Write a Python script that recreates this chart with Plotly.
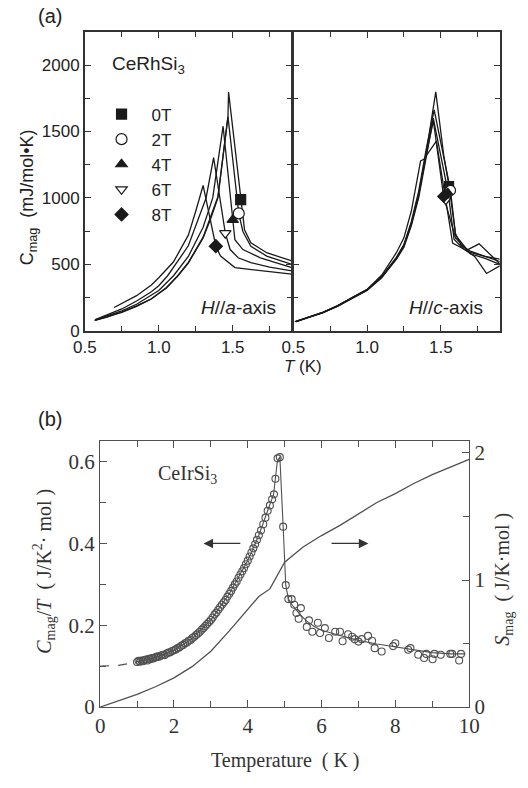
import plotly.graph_objects as go

W, H = 528, 788
def PX(x): return x / W
def PY(y): return 1 - y / H

# ---------------- Panel (a) data: CeRhSi3, H // a-axis ----------------
a_fields = ["0T", "2T", "4T", "6T", "8T"]
a0_T = [0.565, 0.65, 0.75, 0.85, 0.95, 1.0, 1.05, 1.13, 1.2, 1.3, 1.35, 1.4, 1.468, 1.472, 1.554, 1.58, 1.623, 1.73, 1.9]
a0_C = [79, 105, 140, 185, 240, 281, 320, 415, 510, 700, 840, 1000, 1612, 1798, 988, 760, 662, 588, 526]
a2_T = [0.57, 0.65, 0.75, 0.85, 0.95, 1.0, 1.05, 1.13, 1.2, 1.3, 1.35, 1.4, 1.468, 1.541, 1.569, 1.623, 1.73, 1.9]
a2_C = [80, 104, 142, 188, 242, 284, 325, 418, 515, 705, 850, 1010, 1612, 884, 748, 637, 563, 501]
a4_T = [0.57, 0.65, 0.75, 0.85, 0.95, 1.0, 1.1, 1.2, 1.3, 1.365, 1.435, 1.5, 1.515, 1.569, 1.687, 1.9]
a4_C = [82, 110, 150, 200, 265, 304, 415, 560, 780, 1000, 1540, 835, 686, 612, 550, 476]
a6_T = [0.57, 0.65, 0.75, 0.85, 0.95, 1.0, 1.06, 1.2, 1.32, 1.371, 1.45, 1.483, 1.537, 1.623, 1.75, 1.9]
a6_C = [85, 118, 165, 225, 295, 340, 415, 640, 1000, 1304, 735, 612, 550, 514, 480, 452]
a8_T = [0.698, 0.75, 0.85, 0.95, 1.0, 1.1, 1.2, 1.25, 1.3, 1.386, 1.418, 1.515, 1.6, 1.75, 1.9]
a8_C = [176, 205, 265, 345, 400, 520, 720, 900, 1094, 637, 563, 476, 465, 445, 427]
# marker points on each curve (H // a)
am_T = [1.554, 1.541, 1.50, 1.45, 1.386]
am_C = [988, 884, 835, 735, 637]

# ---------------- Panel (a) data: H // c-axis ----------------
c1_T = [0.51, 0.6, 0.7, 0.8, 0.9, 1.0, 1.1, 1.2, 1.25, 1.3, 1.35, 1.4, 1.466, 1.52, 1.556, 1.6, 1.64, 1.7, 1.8, 1.9]
c1_C = [69, 100, 138, 185, 245, 304, 400, 545, 640, 800, 1020, 1330, 1798, 1320, 1089, 730, 640, 600, 560, 522]
c2_T = [0.52, 0.6, 0.7, 0.8, 0.9, 1.0, 1.1, 1.2, 1.25, 1.3, 1.35, 1.4, 1.455, 1.566, 1.6, 1.68, 1.76, 1.9]
c2_C = [72, 98, 136, 188, 248, 310, 410, 555, 650, 820, 1050, 1360, 1662, 1057, 720, 610, 655, 505]
c3_T = [0.52, 0.6, 0.7, 0.8, 0.9, 1.0, 1.1, 1.2, 1.25, 1.3, 1.35, 1.4, 1.449, 1.55, 1.59, 1.65, 1.73, 1.81, 1.9]
c3_C = [70, 102, 140, 186, 250, 306, 405, 540, 630, 790, 1000, 1300, 1600, 1040, 690, 620, 560, 432, 490]
c4_T = [0.52, 0.6, 0.7, 0.8, 0.9, 1.0, 1.1, 1.2, 1.25, 1.3, 1.363, 1.385, 1.47, 1.534, 1.58, 1.7, 1.8, 1.9]
c4_C = [70, 100, 140, 190, 250, 312, 420, 590, 700, 900, 1279, 1291, 1427, 983, 660, 590, 560, 540]
c5_T = [0.52, 0.6, 0.7, 0.8, 0.9, 1.0, 1.1, 1.2, 1.25, 1.3, 1.35, 1.4, 1.45, 1.519, 1.6, 1.7, 1.8, 1.9]
c5_C = [71, 101, 139, 187, 247, 308, 408, 550, 645, 810, 1030, 1320, 1580, 1012, 700, 580, 545, 500]
cm_T = [1.556, 1.566, 1.548, 1.534, 1.519]
cm_C = [1089, 1057, 1040, 983, 1012]

# ---------------- Panel (b) data: CeIrSi3 ----------------
b_low_T = [1.00, 1.04, 1.08, 1.12, 1.16, 1.20, 1.24, 1.28, 1.32, 1.36, 1.40, 1.44, 1.48, 1.52, 1.56, 1.60,
           1.65, 1.70, 1.75, 1.80, 1.85, 1.90, 1.95, 2.00, 2.05, 2.10, 2.15, 2.20, 2.25, 2.30, 2.35, 2.40,
           2.45, 2.50, 2.55, 2.60, 2.65, 2.70, 2.75, 2.80, 2.85, 2.90, 2.95, 3.00, 3.05, 3.10, 3.15, 3.20,
           3.25, 3.30, 3.35, 3.40, 3.45, 3.50, 3.55, 3.60, 3.65, 3.70, 3.75, 3.80, 3.85, 3.90, 3.95, 4.00,
           4.05, 4.10, 4.15, 4.20, 4.25, 4.30, 4.36, 4.42, 4.48, 4.54, 4.60, 4.66, 4.71, 4.75, 4.81, 4.87]
b_low_C = [0.110, 0.113, 0.111, 0.114, 0.112, 0.115, 0.116, 0.114, 0.118, 0.117, 0.120, 0.119, 0.121, 0.122,
           0.124, 0.123, 0.126, 0.128, 0.127, 0.131, 0.133, 0.134, 0.137, 0.139, 0.141, 0.144, 0.146, 0.150,
           0.152, 0.156, 0.158, 0.162, 0.164, 0.169, 0.172, 0.176, 0.180, 0.184, 0.189, 0.193, 0.198, 0.203,
           0.208, 0.213, 0.219, 0.226, 0.231, 0.238, 0.244, 0.250, 0.256, 0.262, 0.270, 0.277, 0.284, 0.292,
           0.300, 0.307, 0.316, 0.324, 0.332, 0.340, 0.349, 0.358, 0.368, 0.378, 0.388, 0.398, 0.409, 0.420,
           0.432, 0.447, 0.463, 0.480, 0.493, 0.508, 0.520, 0.558, 0.608, 0.611]
b_high_T = [4.96, 5.03, 5.10, 5.19, 5.26, 5.32, 5.38, 5.44, 5.60, 5.66, 5.75, 5.90, 5.96, 6.09, 6.20, 6.37,
            6.50, 6.57, 6.72, 6.83, 6.90, 7.00, 7.09, 7.26, 7.37, 7.44, 7.63, 7.94, 8.00, 8.35, 8.41, 8.62,
            8.78, 8.84, 9.01, 9.06, 9.23, 9.49, 9.54, 9.73, 9.78]
b_high_C = [0.441, 0.298, 0.264, 0.264, 0.250, 0.230, 0.216, 0.242, 0.196, 0.212, 0.184, 0.206, 0.181, 0.193,
            0.169, 0.184, 0.184, 0.161, 0.178, 0.172, 0.166, 0.160, 0.166, 0.174, 0.162, 0.144, 0.136, 0.149,
            0.156, 0.140, 0.144, 0.128, 0.120, 0.130, 0.117, 0.130, 0.128, 0.130, 0.130, 0.114, 0.130]
fit_T = [1.0, 1.5, 2.0, 2.5, 3.0, 3.5, 4.0, 4.3, 4.5, 4.7, 4.8, 4.87, 4.96, 5.03, 5.1, 5.2, 5.4, 5.6, 5.8,
         6.0, 6.5, 7.0, 7.5, 8.0, 8.5, 9.0, 9.5, 9.9]
fit_C = [0.111, 0.121, 0.139, 0.168, 0.213, 0.277, 0.358, 0.42, 0.47, 0.52, 0.60, 0.612, 0.44, 0.298, 0.265,
         0.25, 0.228, 0.21, 0.197, 0.188, 0.175, 0.163, 0.154, 0.147, 0.139, 0.133, 0.130, 0.130]
ext_T = [0.0, 0.5, 1.0]
ext_C = [0.100, 0.102, 0.110]
S_T = [0, 0.5, 1, 1.5, 2, 2.5, 3, 3.5, 4, 4.3, 4.6, 4.8, 5.0, 5.5, 6, 6.5, 7, 7.5, 8, 8.5, 9, 9.5, 10]
S_val = [0, 0.05, 0.10, 0.16, 0.23, 0.32, 0.44, 0.60, 0.77, 0.87, 0.93, 1.03, 1.14, 1.26, 1.35, 1.43, 1.52,
         1.61, 1.68, 1.76, 1.83, 1.89, 1.95]

SANS = "Liberation Sans, Arial, sans-serif"
SERIF = "Liberation Serif, Times New Roman, serif"
K = "#1a1a1a"
G = "#505050"

fig = go.Figure()

symbols = ["square", "circle", "triangle-up", "triangle-down", "diamond"]
fills = [K, "white", K, "white", K]
sizes = [10, 11, 10, 10, 10]

# panel (a) left curves
for T, C in [(a0_T, a0_C), (a2_T, a2_C), (a4_T, a4_C), (a6_T, a6_C), (a8_T, a8_C)]:
    fig.add_trace(go.Scatter(x=T, y=C, mode="lines", line=dict(color=K, width=1.3),
                             showlegend=False, xaxis="x", yaxis="y", hoverinfo="skip"))
for i, name in enumerate(a_fields):
    fig.add_trace(go.Scatter(x=[am_T[i]], y=[am_C[i]], mode="markers", name=name,
                             marker=dict(symbol=symbols[i], size=sizes[i], color=fills[i],
                                         line=dict(color=K, width=1.2)),
                             xaxis="x", yaxis="y"))
# panel (a) right curves
for T, C in [(c1_T, c1_C), (c2_T, c2_C), (c3_T, c3_C), (c4_T, c4_C), (c5_T, c5_C)]:
    fig.add_trace(go.Scatter(x=T, y=C, mode="lines", line=dict(color=K, width=1.3),
                             showlegend=False, xaxis="x2", yaxis="y2", hoverinfo="skip"))
for i in range(5):
    fig.add_trace(go.Scatter(x=[cm_T[i]], y=[cm_C[i]], mode="markers", showlegend=False,
                             marker=dict(symbol=symbols[i], size=sizes[i] - 1, color=fills[i],
                                         line=dict(color=K, width=1.2)),
                             xaxis="x2", yaxis="y2"))

# panel (b)
fig.add_trace(go.Scatter(x=ext_T, y=ext_C, mode="lines", line=dict(color=G, width=1.1, dash="dash"),
                         showlegend=False, xaxis="x3", yaxis="y3"))
fig.add_trace(go.Scatter(x=fit_T, y=fit_C, mode="lines", line=dict(color=G, width=1.1),
                         showlegend=False, xaxis="x3", yaxis="y3"))
fig.add_trace(go.Scatter(x=b_low_T + b_high_T, y=b_low_C + b_high_C, mode="markers",
                         marker=dict(symbol="circle-open", size=7, color=G, line=dict(width=1.1)),
                         showlegend=False, xaxis="x3", yaxis="y3"))
fig.add_trace(go.Scatter(x=S_T, y=S_val, mode="lines", line=dict(color=G, width=1.3),
                         showlegend=False, xaxis="x3", yaxis="y4"))

ax_a = dict(showline=True, linecolor="#333", linewidth=1.5, ticks="inside", ticklen=6, tickwidth=1.2,
            tickcolor="#333", mirror="ticks", showgrid=False, zeroline=False,
            tickfont=dict(family=SANS, size=17, color="#222"))
ax_b = dict(showline=True, linecolor=G, linewidth=1.3, ticks="inside", ticklen=7, tickwidth=1.2,
            tickcolor=G, showgrid=False, zeroline=False,
            tickfont=dict(family=SERIF, size=21, color="#333"))

d_a_y = [PY(336), PY(33)]
fig.update_layout(
    width=W, height=H, margin=dict(l=0, r=0, t=0, b=0),
    paper_bgcolor="white", plot_bgcolor="white",
    xaxis=dict(**ax_a, domain=[PX(76), PX(292)], range=[0.5, 1.9], tick0=0.5, dtick=0.5, tickformat=".1f",
               minor=dict(dtick=0.25, ticks="inside", ticklen=5, tickcolor="#333"), anchor="y"),
    yaxis=dict(**ax_a, domain=d_a_y, range=[0, 2245], dtick=500,
               minor=dict(dtick=250, ticks="inside", ticklen=5, tickcolor="#333"), anchor="x"),
    xaxis2=dict(**ax_a, domain=[PX(293.5), PX(509)], range=[0.5, 1.9], tick0=0.5, dtick=0.5, tickformat=".1f",
                minor=dict(dtick=0.25, ticks="inside", ticklen=5, tickcolor="#333"), anchor="y2"),
    yaxis2=dict(**ax_a, domain=d_a_y, range=[0, 2245], dtick=500, showticklabels=False,
                minor=dict(dtick=250, ticks="inside", ticklen=5, tickcolor="#333"), anchor="x2"),
    xaxis3=dict(**ax_b, mirror="ticks", domain=[PX(92), PX(477)], range=[0, 10], dtick=2,
                minor=dict(dtick=1, ticks="inside", ticklen=6, tickcolor=G), anchor="y3"),
    yaxis3=dict(**ax_b, domain=[PY(718), PY(448)], range=[0, 0.65], dtick=0.2, tickformat="~g",
                minor=dict(dtick=0.1, ticks="inside", ticklen=6, tickcolor=G), anchor="x3"),
    yaxis4=dict(**ax_b, overlaying="y3", side="right", range=[0, 2.093], dtick=1,
                minor=dict(dtick=0.5, ticks="inside", ticklen=6, tickcolor=G), anchor="x3"),
    legend=dict(x=PX(83), y=PY(98), xanchor="left", yanchor="top", itemwidth=50,
                bgcolor="rgba(0,0,0,0)", font=dict(family=SANS, size=17, color="#222"),
                tracegroupgap=0),
    showlegend=True,
)

ann = []
def txt(x, y, s, font, size, xanchor="center", angle=0, color="#222"):
    ann.append(dict(x=PX(x), y=PY(y), xref="paper", yref="paper", text=s, showarrow=False,
                    xanchor=xanchor, yanchor="middle", textangle=angle,
                    font=dict(family=font, size=size, color=color)))

txt(40, 16, "(a)", SANS, 20)
txt(40, 425, "(b)", SANS, 20)
txt(102, 66, "CeRhSi<sub>3</sub>", SANS, 19, xanchor="left")
txt(195, 312, "<i>H</i>//<i>a</i>-axis", SANS, 19, xanchor="left")
txt(412, 312, "<i>H</i>//<i>c</i>-axis", SANS, 19, xanchor="left")
txt(18, 200, "C<sub>mag</sub>  (mJ/mol•K)", SANS, 18, angle=-90)
txt(304, 372, "<i>T</i> (K)", SANS, 17)
txt(150, 482, "CeIrSi<sub>3</sub>", SERIF, 20, xanchor="left", color="#333")
txt(34, 580, "<i>C</i><sub>mag</sub>/<i>T</i>  ( J/K<sup>2</sup>· mol )", SERIF, 20, angle=-90, color="#333")
txt(512, 588, "<i>S</i><sub>mag</sub>  ( J/K·mol )", SERIF, 20, angle=-90, color="#333")
txt(285, 772, "Temperature  ( K )", SERIF, 20, color="#333")

# arrows in panel (b)
ann.append(dict(x=2.8, y=0.4, ax=3.84, ay=0.4, xref="x3", yref="y3", axref="x3", ayref="y3",
                showarrow=True, arrowhead=2, arrowsize=1.6, arrowwidth=1.2, arrowcolor="#333", text=""))
ann.append(dict(x=7.27, y=0.4, ax=6.23, ay=0.4, xref="x3", yref="y3", axref="x3", ayref="y3",
                showarrow=True, arrowhead=2, arrowsize=1.6, arrowwidth=1.2, arrowcolor="#333", text=""))
fig.update_layout(annotations=ann)

fig.write_html("out.html",
               post_script="document.body.style.margin='0';document.body.style.padding='0';"
                           "document.documentElement.style.overflow='hidden';")
